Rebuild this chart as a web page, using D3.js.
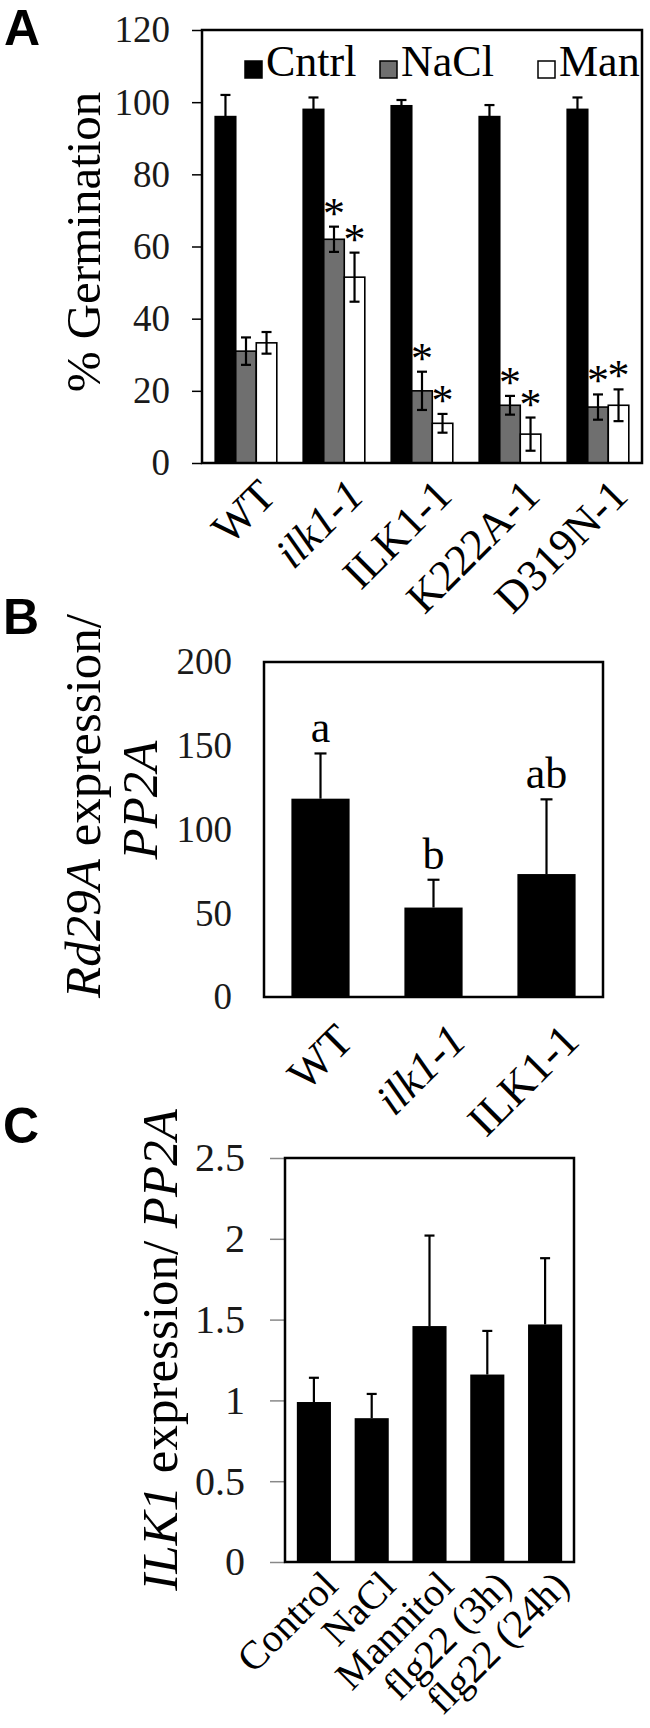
<!DOCTYPE html>
<html>
<head>
<meta charset="utf-8">
<script src="https://cdn.jsdelivr.net/npm/d3@7"></script>
<style>
body { margin: 0; background: #fff; }
svg { display: block; font-family: "Liberation Serif", "Times New Roman", serif; }
</style>
</head>
<body>
<svg id="chart"></svg>
<script>
// ---- panel A : germination ----
var genotypesA = ["WT", "ilk1-1", "ILK1-1", "K222A-1", "D319N-1"];
var seriesA = ["Cntrl", "NaCl", "Man"];
var cntrlMean = [96, 98, 99, 96, 98];
var cntrlErr = [6, 3.3, 1.6, 3.2, 3.3];
var naclMean = [31, 62, 20, 16, 15.5];
var naclErr = [3.8, 3.5, 5.3, 2.6, 3.5];
var manMean = [33.3, 51.5, 11, 8, 16];
var manErr = [3, 6.8, 2.6, 4.6, 4.4];
var naclStar = [false, true, true, true, true];
var manStar = [false, true, true, true, true];
var ticksA = [0, 20, 40, 60, 80, 100, 120];

// ---- panel B : Rd29A ----
var genotypesB = ["WT", "ilk1-1", "ILK1-1"];
var rd29aMean = [118.4, 53.4, 73.4];
var rd29aErr = [27, 16.6, 44.6];
var rd29aLetters = ["a", "b", "ab"];
var ticksB = [0, 50, 100, 150, 200];

// ---- panel C : ILK1 ----
var treatmentsC = ["Control", "NaCl", "Mannitol", "flg22 (3h)", "flg22 (24h)"];
var ilk1Mean = [0.99, 0.89, 1.46, 1.16, 1.47];
var ilk1Err = [0.15, 0.15, 0.56, 0.27, 0.41];
var ticksC = [0, 0.5, 1, 1.5, 2, 2.5];

var svg = d3.select("#chart")
            .attr("width", 650)
            .attr("height", 1728);

function panelLetter(txt, x, y){
  svg.append("text")
     .text(txt)
     .attr("x", x)
     .attr("y", y)
     .attr("font-family", "Liberation Sans, Arial, sans-serif")
     .attr("font-weight", "bold")
     .attr("font-size", 50);
}

function yAxis(scale, left, ticks, size, pad, fs, tickColor){
  var g = svg.append("g")
     .attr("transform", "translate(" + left + ",0)")
     .call(d3.axisLeft(scale).tickValues(ticks).tickSize(size).tickPadding(pad)
             .tickSizeOuter(0).tickFormat(d3.format("~g")));
  g.attr("font-family", null).attr("font-size", null);
  g.select(".domain").remove();
  g.selectAll("line").attr("stroke", tickColor).attr("stroke-width", 1.5);
  g.selectAll("text").attr("font-size", fs).attr("fill", "#1a1a1a");
}

function xLabels(scale, bottom, fs, dx, dy){
  var g = svg.append("g")
     .attr("transform", "translate(0," + bottom + ")")
     .call(d3.axisBottom(scale).tickSize(0));
  g.attr("font-family", null).attr("font-size", null);
  g.select(".domain").remove();
  g.selectAll("text")
   .attr("y", 0)
   .attr("dy", 0)
   .attr("font-size", fs)
   .attr("fill", "#000")
   .attr("text-anchor", "end")
   .attr("transform", "translate(" + dx + "," + dy + ") rotate(-45)")
   .style("font-style", function(d){ return d === "ilk1-1" ? "italic" : null; });
}

function frame(box){
  svg.append("rect")
     .attr("x", box.left)
     .attr("y", box.top)
     .attr("width", box.right - box.left)
     .attr("height", box.bottom - box.top)
     .attr("fill", "none")
     .attr("stroke", "#000")
     .attr("stroke-width", 2.5);
}

// ================= A =================
var aBox = {left: 202, right: 642, top: 30, bottom: 463};
var xA = d3.scaleBand().domain(genotypesA).range([aBox.left, aBox.right]).paddingInner(0.3).paddingOuter(0.15);
var xAsub = d3.scaleBand().domain(seriesA).range([0, xA.bandwidth()]);
var yA = d3.scaleLinear().domain([0, 120]).range([aBox.bottom, aBox.top]);
var colorA = d3.scaleOrdinal().domain(seriesA).range(["#000", "#6f6f6f", "#fff"]);

var rowsA = [];
genotypesA.forEach(function(g, i){
  rowsA.push({g: g, s: "Cntrl", v: cntrlMean[i], e: cntrlErr[i], star: false});
  rowsA.push({g: g, s: "NaCl", v: naclMean[i], e: naclErr[i], star: naclStar[i]});
  rowsA.push({g: g, s: "Man", v: manMean[i], e: manErr[i], star: manStar[i]});
});
function cxA(d){ return xA(d.g) + xAsub(d.s) + xAsub.bandwidth() / 2; }

panelLetter("A", 4, 45);
yAxis(yA, aBox.left, ticksA, 10, 22, 37, "#000");

svg.append("g").selectAll("rect")
   .data(rowsA)
   .enter()
   .append("rect")
   .attr("x", function(d){ return xA(d.g) + xAsub(d.s); })
   .attr("y", function(d){ return yA(d.v); })
   .attr("width", xAsub.bandwidth())
   .attr("height", function(d){ return yA(0) - yA(d.v); })
   .attr("fill", function(d){ return colorA(d.s); })
   .attr("stroke", "#000")
   .attr("stroke-width", 1.6);

var errA = svg.append("g").attr("stroke", "#000").attr("stroke-width", 2.2);
rowsA.forEach(function(d){
  var x = cxA(d);
  errA.append("line").attr("x1", x).attr("x2", x).attr("y1", yA(d.v - d.e)).attr("y2", yA(d.v + d.e));
  errA.append("line").attr("x1", x - 5).attr("x2", x + 5).attr("y1", yA(d.v - d.e)).attr("y2", yA(d.v - d.e));
  errA.append("line").attr("x1", x - 5).attr("x2", x + 5).attr("y1", yA(d.v + d.e)).attr("y2", yA(d.v + d.e));
});

svg.append("g").selectAll("text")
   .data(rowsA.filter(function(d){ return d.star; }))
   .enter()
   .append("text")
   .text("*")
   .attr("x", cxA)
   .attr("y", function(d){ return yA(d.v + d.e) + 1; })
   .attr("text-anchor", "middle")
   .attr("font-size", 44);

frame(aBox);

// legend
var legendX = [245, 380, 538];
var legend = svg.append("g").selectAll("g")
   .data(seriesA)
   .enter()
   .append("g")
   .attr("transform", function(d, i){ return "translate(" + legendX[i] + ",0)"; });
legend.append("rect")
      .attr("x", 0).attr("y", 61)
      .attr("width", 17).attr("height", 17)
      .attr("fill", function(d){ return colorA(d); })
      .attr("stroke", "#000")
      .attr("stroke-width", 1.5);
legend.append("text")
      .text(function(d){ return d; })
      .attr("x", 21).attr("y", 76)
      .attr("font-size", 44);

xLabels(xA, aBox.bottom, 44, 32, 35);

svg.append("text")
   .text("% Germination")
   .attr("transform", "translate(100,242) rotate(-90)")
   .attr("text-anchor", "middle")
   .attr("font-size", 49);

// ================= B =================
var bBox = {left: 264, right: 603, top: 662, bottom: 997};
var xB = d3.scaleBand().domain(genotypesB).range([bBox.left, bBox.right]).paddingInner(0.485).paddingOuter(0.2425);
var yB = d3.scaleLinear().domain([0, 200]).range([bBox.bottom, bBox.top]);

panelLetter("B", 3, 634);
yAxis(yB, bBox.left, ticksB, 0, 32, 37, "#000");

svg.append("g").selectAll("rect")
   .data(genotypesB)
   .enter()
   .append("rect")
   .attr("x", function(d){ return xB(d); })
   .attr("y", function(d, i){ return yB(rd29aMean[i]); })
   .attr("width", xB.bandwidth())
   .attr("height", function(d, i){ return yB(0) - yB(rd29aMean[i]); })
   .attr("fill", "#000");

var errB = svg.append("g").attr("stroke", "#000").attr("stroke-width", 2.2);
genotypesB.forEach(function(g, i){
  var x = xB(g) + xB.bandwidth() / 2;
  var top = yB(rd29aMean[i] + rd29aErr[i]);
  errB.append("line").attr("x1", x).attr("x2", x).attr("y1", yB(rd29aMean[i])).attr("y2", top);
  errB.append("line").attr("x1", x - 6).attr("x2", x + 6).attr("y1", top).attr("y2", top);
  svg.append("text")
     .text(rd29aLetters[i])
     .attr("x", x)
     .attr("y", top - 11)
     .attr("text-anchor", "middle")
     .attr("font-size", 44);
});

frame(bBox);
xLabels(xB, bBox.bottom, 45, 35, 46);

var labB = svg.append("text")
   .attr("transform", "translate(100,806) rotate(-90)")
   .attr("text-anchor", "middle")
   .attr("font-size", 51);
labB.append("tspan").text("Rd29A").style("font-style", "italic");
labB.append("tspan").text(" expression/");
svg.append("text")
   .text("PP2A")
   .attr("transform", "translate(157,800) rotate(-90)")
   .attr("text-anchor", "middle")
   .attr("font-size", 51)
   .style("font-style", "italic");

// ================= C =================
var cBox = {left: 285, right: 574, top: 1158, bottom: 1562};
var xC = d3.scaleBand().domain(treatmentsC).range([cBox.left, cBox.right]).paddingInner(0.41).paddingOuter(0.205);
var yC = d3.scaleLinear().domain([0, 2.5]).range([cBox.bottom, cBox.top]);

panelLetter("C", 3, 1143);
yAxis(yC, cBox.left, ticksC, 15, 25, 40, "#888");

svg.append("g").selectAll("rect")
   .data(treatmentsC)
   .enter()
   .append("rect")
   .attr("x", function(d){ return xC(d); })
   .attr("y", function(d, i){ return yC(ilk1Mean[i]); })
   .attr("width", xC.bandwidth())
   .attr("height", function(d, i){ return yC(0) - yC(ilk1Mean[i]); })
   .attr("fill", "#000");

var errC = svg.append("g").attr("stroke", "#000").attr("stroke-width", 2.2);
treatmentsC.forEach(function(t, i){
  var x = xC(t) + xC.bandwidth() / 2;
  var top = yC(ilk1Mean[i] + ilk1Err[i]);
  errC.append("line").attr("x1", x).attr("x2", x).attr("y1", yC(ilk1Mean[i])).attr("y2", top);
  errC.append("line").attr("x1", x - 5).attr("x2", x + 5).attr("y1", top).attr("y2", top);
});

frame(cBox);
xLabels(xC, cBox.bottom, 40, 26, 26);

var labC = svg.append("text")
   .attr("transform", "translate(177,1350) rotate(-90)")
   .attr("text-anchor", "middle")
   .attr("font-size", 51);
labC.append("tspan").text("ILK1").style("font-style", "italic");
labC.append("tspan").text(" expression/ ");
labC.append("tspan").text("PP2A").style("font-style", "italic");
</script>
</body>
</html>
